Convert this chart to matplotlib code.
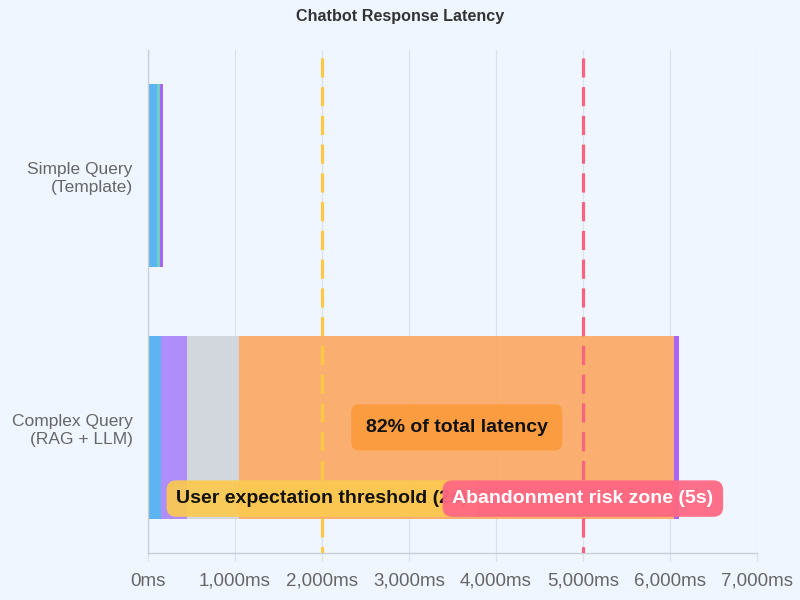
import matplotlib.pyplot as plt
import numpy as np

# Data (milliseconds)
categories = ['Simple Query\n(Template)', 'Complex Query\n(RAG + LLM)']
stages = ['Network', 'Intent Match', 'Retrieval', 'Reranking', 'LLM Generation', 'Post-processing']
simple_ms = [100, 35, 0, 0, 0, 35]
complex_ms = [150, 0, 300, 600, 5000, 50]
stage_colors = ['#4aaaf0', '#56cdbd', '#a680fc', '#cfd3d9', '#fca65c', '#a24df6']

expect_ms = 2000
abandon_ms = 5000
x_ticks = [0, 1000, 2000, 3000, 4000, 5000, 6000, 7000]

plt.rcParams['font.family'] = ['Liberation Sans', 'DejaVu Sans']

bg = '#eff6ff'
fig = plt.figure(figsize=(8, 6), dpi=100, facecolor=bg)
ax = fig.add_axes([0.185, 0.078, 0.761, 0.839], facecolor=bg)

values = np.array([simple_ms, complex_ms])
ypos = np.arange(len(categories))
left = np.zeros(len(categories))
for i, name in enumerate(stages):
    ax.barh(ypos, values[:, i], left=left, height=0.725, color=stage_colors[i],
            alpha=0.88, linewidth=0, zorder=2, label=name)
    left += values[:, i]

ax.set_xlim(0, 7000)
ax.set_ylim(1.5, -0.5)
ax.set_yticks(ypos)
ax.set_yticklabels(categories, fontsize=12.5, color='#666666', linespacing=1.25)
ax.set_xticks(x_ticks)
ax.set_xticklabels([f'{v:,}ms' for v in x_ticks], fontsize=13.5, color='#666666')

ax.grid(axis='x', color='#dde2e8', linewidth=0.9, zorder=0)
ax.tick_params(axis='x', length=6, width=0.9, color='#dde2e8', pad=8)
ax.tick_params(axis='y', length=0, pad=11)
for s in ['top', 'right']:
    ax.spines[s].set_visible(False)
for s in ['left', 'bottom']:
    ax.spines[s].set_color('#c9cfd6')
    ax.spines[s].set_linewidth(1.0)

# threshold lines
ax.axvline(expect_ms, color='#fbc944', lw=2.3, linestyle=(4, (6, 3)), zorder=3)
ax.axvline(abandon_ms, color='#f8647f', lw=2.3, linestyle=(4, (6, 3)), zorder=3)

# LLM share annotation, centred on the LLM segment of the complex bar
llm_start = sum(complex_ms[:4])
share = complex_ms[4] / sum(complex_ms) * 100
ax.text(llm_start + complex_ms[4] / 2, 1.0, f'{share:.0f}% of total latency',
        ha='center', va='center', fontsize=14, fontweight='bold', color='#111111',
        zorder=5, bbox=dict(boxstyle='round,pad=0.75,rounding_size=0.4',
                            fc='#fd9a3c', ec='none', alpha=0.9))

ax.text(expect_ms, 1.283, 'User expectation threshold (2s)', ha='center', va='center',
        fontsize=14, fontweight='bold', color='#111111', zorder=5,
        bbox=dict(boxstyle='round,pad=0.5,rounding_size=0.5', fc='#fcc94f', ec='none', alpha=0.92))
ax.text(abandon_ms, 1.283, 'Abandonment risk zone (5s)', ha='center', va='center',
        fontsize=14, fontweight='bold', color='white', zorder=6,
        bbox=dict(boxstyle='round,pad=0.5,rounding_size=0.5', fc='#ff6883', ec='none', alpha=0.95))

fig.text(0.5, 0.972, 'Chatbot Response Latency', ha='center', va='center',
         fontsize=11.6, fontweight='bold', color='#333333')

plt.savefig('out.png', dpi=100, facecolor=bg)
